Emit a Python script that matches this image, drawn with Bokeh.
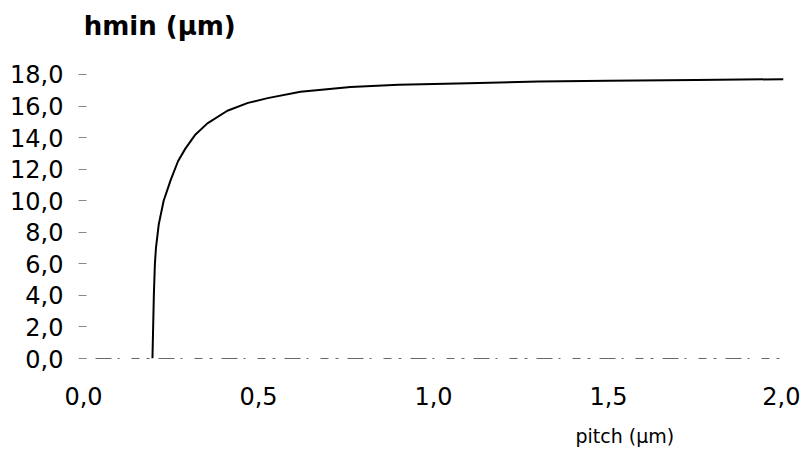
from bokeh.plotting import figure
from bokeh.models import Range1d, FixedTicker, CustomJSTickFormatter, Title, Label
from bokeh.embed import file_html
from bokeh.resources import INLINE

# data
pitch = [0.197, 0.199, 0.201, 0.204, 0.207, 0.215, 0.229, 0.249, 0.270, 0.291,
         0.320, 0.354, 0.411, 0.470, 0.526, 0.620, 0.763, 0.900, 1.100, 1.300,
         1.500, 1.750, 2.000]
hmin = [0.0, 2.0, 4.0, 6.0, 7.0, 8.5, 10.0, 11.3, 12.5, 13.3,
        14.2, 14.9, 15.7, 16.2, 16.5, 16.9, 17.2, 17.35, 17.45, 17.55,
        17.6, 17.65, 17.7]
x_ticks = [0.0, 0.5, 1.0, 1.5, 2.0]
y_ticks = [0, 2, 4, 6, 8, 10, 12, 14, 16, 18]
title_text = "hmin (μm)"
xlabel_text = "pitch (μm)"

FONT = "DejaVu Sans"

# frame reaches near the canvas top so the title can sit inside it
p = figure(width=800, height=461, output_backend="svg", toolbar_location=None,
           x_range=Range1d(0, 2.0), y_range=Range1d(0, 22.37),
           min_border_left=83, min_border_right=17, min_border_top=5, min_border_bottom=103)
p.outline_line_color = None
p.grid.grid_line_color = None
p.background_fill_color = "white"
p.border_fill_color = "white"

p.line(pitch, hmin, line_color="black", line_width=2)

fmt = CustomJSTickFormatter(code="return tick.toFixed(1).replace('.', ',');")

xa = p.xaxis[0]
xa.ticker = FixedTicker(ticks=x_ticks)
xa.formatter = fmt
xa.major_tick_line_color = None
xa.major_tick_in = 0
xa.major_tick_out = 0
xa.minor_tick_line_color = None
xa.axis_line_color = "#666666"
xa.axis_line_dash = "3 9 16 6 2 12 8 7"
xa.axis_line_width = 1
xa.major_label_text_font = FONT
xa.major_label_text_font_size = "24px"
xa.major_label_text_color = "black"
xa.major_label_standoff = 28

ya = p.yaxis[0]
ya.ticker = FixedTicker(ticks=y_ticks)
ya.formatter = fmt
ya.axis_line_color = None
ya.minor_tick_line_color = None
ya.major_tick_line_color = "#888888"
ya.major_tick_in = 3
ya.major_tick_out = 5
ya.major_label_text_font = FONT
ya.major_label_text_font_size = "24px"
ya.major_label_text_color = "black"
ya.major_label_standoff = 15

p.add_layout(Label(x=0.0005, y=21.04, text=title_text, text_font=FONT,
                   text_font_size="26px", text_font_style="bold",
                   text_color="black", text_align="left", text_baseline="middle"))
p.add_layout(Title(text=xlabel_text, text_font=FONT, text_font_size="19px",
                   text_font_style="normal", text_color="black",
                   align="left", offset=492, standoff=30), "below")

open("out.html", "w").write(file_html(p, INLINE))
